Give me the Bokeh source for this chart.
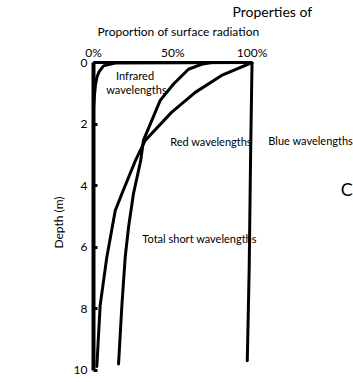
from bokeh.plotting import figure
from bokeh.models import Range1d, LinearAxis, FixedTicker, ColumnDataSource, Title
from bokeh.embed import file_html
from bokeh.resources import INLINE
from bokeh.core.properties import value

# ---- data (proportion of surface radiation in %, depth in m) ----
ir_depth = [0.0, 0.02, 0.11, 0.30, 0.49, 0.75, 1.07, 1.5]
ir_prop = [100.0, 13.7, 6.3, 3.5, 2.1, 1.2, 0.6, 0.0]

red_depth = [0.0, 0.42, 0.97, 1.62, 2.53, 3.18, 4.26, 4.81, 6.32, 7.89, 9.87]
red_prop = [100.0, 80.8, 64.2, 49.2, 32.6, 26.5, 17.9, 13.7, 8.4, 4.2, 2.1]

total_depth = [0.0, 0.0, 0.06, 0.22, 0.70, 1.23, 1.62, 2.53, 3.18, 4.26, 5.35, 6.32, 7.89, 9.79]
total_prop = [100.0, 74.4, 68.1, 59.9, 50.5, 42.1, 38.9, 31.5, 29.8, 25.2, 22.1, 20.0, 17.9, 15.8]

blue_depth = [0.0, 3.0, 6.7, 9.68]
blue_prop = [100.0, 99.1, 98.2, 97.0]

depth_ticks = [0, 2, 4, 6, 8, 10]
prop_ticks = [0, 50, 100]
prop_tick_labels = ["0%", "50%", "100%"]

curve_labels = ["Infrared", "wavelengths", "Red wavelengths", "Total short wavelengths", "Blue wavelengths"]
label_x = [26.2, 27.1, 74.1, 66.9, 137.0]
label_y = [0.42, 0.88, 2.56, 5.70, 2.53]

FONT = "Lato"

p = figure(width=353, height=382, output_backend="svg", toolbar_location=None,
           x_range=Range1d(0, 164), y_range=Range1d(10.39, 0),
           x_axis_location=None, y_axis_location=None,
           min_border_left=93, min_border_right=0, min_border_top=62, min_border_bottom=0)
p.outline_line_color = None
p.background_fill_color = "white"
p.border_fill_color = "white"
p.xgrid.visible = False
p.ygrid.visible = False

# top axis
xa = LinearAxis(ticker=FixedTicker(ticks=prop_ticks), bounds=(0, 100),
                major_label_overrides={t: l for t, l in zip(prop_ticks, prop_tick_labels)})
xa.axis_line_width = 3
xa.axis_line_color = "black"
xa.major_tick_in = 0
xa.major_tick_out = 0
xa.minor_tick_in = 0
xa.minor_tick_out = 0
xa.major_label_standoff = 3
xa.major_label_text_font = FONT
xa.major_label_text_font_size = "12px"
xa.major_label_text_color = "black"
p.add_layout(xa, "above")

# titles in the top margin
t1 = Title(text="Proportion of surface radiation", align="left", offset=4, standoff=5,
           text_font=FONT, text_font_size="12px", text_font_style="normal", text_color="black")
p.add_layout(t1, "above")
t2 = Title(text="Properties of", align="left", offset=139, standoff=0,
           text_font=FONT, text_font_size="14px", text_font_style="normal", text_color="black")
p.add_layout(t2, "above")

# left axis
ya = LinearAxis(ticker=FixedTicker(ticks=depth_ticks), bounds=(0, 10),
                axis_label="Depth (m)")
ya.axis_line_width = 4
ya.axis_line_color = "black"
ya.major_tick_in = 4
ya.major_tick_out = 0
ya.major_tick_line_width = 3
ya.major_tick_line_color = "black"
ya.minor_tick_in = 0
ya.minor_tick_out = 0
ya.major_label_standoff = 6
ya.major_label_text_font = FONT
ya.major_label_text_font_size = "12px"
ya.major_label_text_color = "black"
ya.axis_label_text_font = FONT
ya.axis_label_text_font_size = "12px"
ya.axis_label_text_font_style = "normal"
ya.axis_label_text_color = "black"
ya.axis_label_standoff = 5
p.add_layout(ya, "left")

# curves
for xs, ys in [(ir_prop, ir_depth), (red_prop, red_depth), (total_prop, total_depth), (blue_prop, blue_depth)]:
    p.line(xs, ys, line_color="black", line_width=3, line_join="round", line_cap="round")

src = ColumnDataSource(dict(x=label_x, y=label_y, text=curve_labels))
p.text(x="x", y="y", text="text", source=src, text_font=value(FONT),
       text_font_size="11px", text_align="center", text_baseline="middle", text_color="black")

p.text(x=[156.0], y=[4.12], text=["C"], text_font=value(FONT), text_font_size="18px",
       text_align="left", text_baseline="middle", text_color="black")

open("out.html", "w").write(file_html(p, INLINE))
